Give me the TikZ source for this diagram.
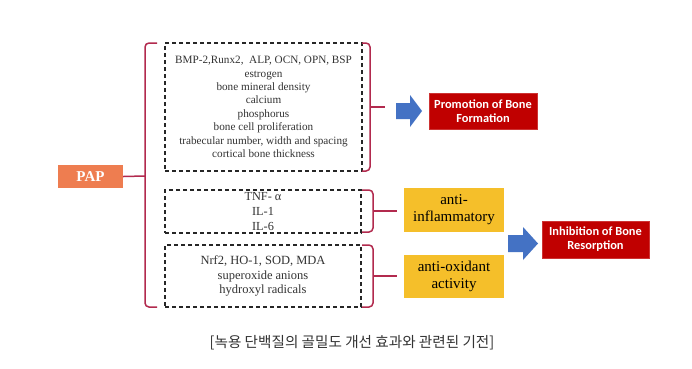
\documentclass[tikz,border=0pt]{standalone}
\usepackage{fontspec}
\setmainfont{Liberation Serif}
\newfontfamily\calib{Carlito}
\newfontfamily\krfont{Noto Sans CJK KR}
\definecolor{papor}{RGB}{238,125,80}
\definecolor{boxred}{RGB}{192,0,0}
\definecolor{gold}{RGB}{245,191,42}
\definecolor{brk}{RGB}{178,42,78}
\definecolor{barrow}{RGB}{68,114,196}
\definecolor{tgray}{RGB}{51,51,51}
\tikzset{
  dbox/.style={draw=black!85, dashed, dash pattern=on 4pt off 3pt, line width=1.1pt, text=tgray, align=center, inner sep=0pt},
  redbox/.style={fill=boxred, draw=boxred!80!white, line width=0.4pt, text=white, align=center, inner sep=0pt, font=\calib\bfseries\fontsize{12.4}{14}\selectfont},
  goldbox/.style={fill=gold, text=black, align=center, inner sep=0pt, font=\fontsize{15}{17}\selectfont},
  brack/.style={draw=brk, line width=1.5pt, rounded corners=4pt},
  tick/.style={draw=brk, line width=1.5pt},
  barr/.style={fill=barrow}
}
\begin{document}
\begin{tikzpicture}[x=1pt,y=-1pt]
\useasboundingbox (0,0) rectangle (692,368);
\fill[white] (0,0) rectangle (692,368);

% PAP
\node[fill=papor, text=white, minimum width=65pt, minimum height=23pt, inner sep=0pt, font=\bfseries\fontsize{15}{17}\selectfont] (pap) at (90.5,176.5) {PAP};

% dashed boxes
\node[dbox, minimum width=197pt, minimum height=128pt, font=\fontsize{11.2}{13.4}\selectfont] (b1) at (263.5,107) {BMP-2,Runx2,\ \ ALP, OCN, OPN, BSP\\estrogen\\bone mineral density\\calcium\\phosphorus\\bone cell proliferation\\trabecular number, width and spacing\\cortical bone thickness};
\node[dbox, minimum width=196pt, minimum height=43pt, font=\fontsize{12.3}{15}\selectfont] (b2) at (263,211.5) {TNF- α\\IL-1\\IL-6};
\node[dbox, minimum width=196pt, minimum height=62pt, font=\fontsize{12.5}{14.5}\selectfont] (b3) at (263,276) {Nrf2, HO-1, SOD, MDA\\superoxide anions\\hydroxyl radicals};

% big left bracket
\coordinate (bm) at (145,176);
\draw[brack] (157,43) -- (145,43) -- (145,307) -- (157,307);
\draw[tick] (pap.east) -- (bm);

% right brackets
\coordinate (r1) at (370,107);
\coordinate (t1) at (385,107);
\draw[brack] (362,43) -- (370,43) -- (370,171) -- (362,171);
\draw[tick] (r1) -- (t1);

\coordinate (r2) at (373,211);
\coordinate (t2) at (397,211);
\draw[brack] (362,190) -- (373,190) -- (373,232) -- (362,232);
\draw[tick] (r2) -- (t2);

\coordinate (r3) at (373,276);
\coordinate (t3) at (397,276);
\draw[brack] (362,245) -- (373,245) -- (373,307) -- (362,307);
\draw[tick] (r3) -- (t3);

% result boxes
\node[redbox, minimum width=108pt, minimum height=36pt] (prom) at (483,111) {Promotion of Bone\\Formation};
\node[goldbox, minimum width=100pt, minimum height=44pt] (ainf) at (454,210) {anti-\\inflammatory};
\node[goldbox, minimum width=100pt, minimum height=43pt] (aox) at (454,276.5) {anti-oxidant\\activity};
\node[redbox, minimum width=107pt, minimum height=37pt] (inh) at (595.5,239.5) {Inhibition of Bone\\Resorption};

% blue block arrows
\fill[barr] (396,103) -- (410,103) -- (410,95) -- (422,111) -- (410,127) -- (410,119) -- (396,119) -- cycle;
\fill[barr] (508,235) -- (523,235) -- (523,227) -- (538,243.5) -- (523,260) -- (523,252) -- (508,252) -- cycle;

% caption
\node[text=tgray, inner sep=0pt, font=\krfont\fontsize{14.6}{17}\selectfont] (cap) at (352,343) {[녹용 단백질의 골밀도 개선 효과와 관련된 기전]};
\end{tikzpicture}
\end{document}
